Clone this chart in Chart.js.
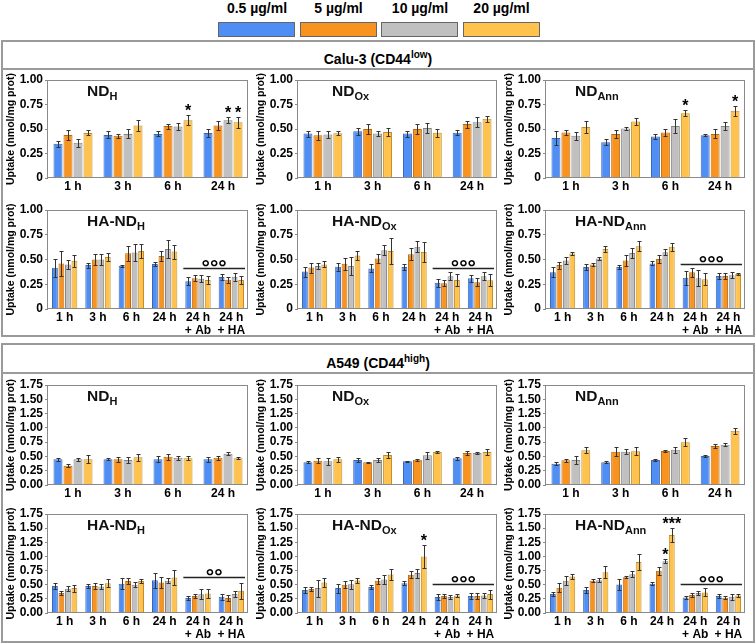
<!DOCTYPE html>
<html>
<head>
<meta charset="utf-8">
<script src="https://cdn.jsdelivr.net/npm/chart.js@4/dist/chart.umd.min.js"></script>
<style>
  body { margin: 0; background: #fff; font-family: "Liberation Sans", Arial, sans-serif; }
  #page { position: relative; width: 756px; height: 644px; overflow: hidden; }
  .box { position: absolute; border: 2px solid #9a9a9a; box-sizing: border-box; }
  .head { position: absolute; left: 0; right: 0; top: 0; text-align: center; font-weight: bold;
          font-size: 14px; color: #000; border-bottom: 2px solid #9a9a9a; }
  .head sup { font-size: 10px; }
  .lg-label { position: absolute; top: 0; width: 80px; text-align: center; font-weight: bold; font-size: 14px; }
  .lg-box { position: absolute; top: 22px; width: 77px; height: 15px; box-sizing: border-box; border: 1px solid #666; }
  .ptitle { position: absolute; font-weight: bold; font-size: 15.5px; line-height: 16px; color: #111; white-space: nowrap; }
  .ptitle sub { font-size: 11px; vertical-align: -4px; }
  canvas { position: absolute; }
</style>
</head>
<body>
<div id="page">
  <div class="box" style="left:1px;top:40px;width:754px;height:297px;">
    <div class="head" style="height:26px;line-height:26px;">Calu-3 (CD44<sup>low</sup>)</div>
  </div>
  <div class="box" style="left:1px;top:343px;width:754px;height:300px;">
    <div class="head" style="height:27px;line-height:27px;">A549 (CD44<sup>high</sup>)</div>
  </div>
</div>
<script>
const concentrations = ["0.5 µg/ml", "5 µg/ml", "10 µg/ml", "20 µg/ml"];
const barColors = ["#4f8ef4", "#f7931e", "#c0c0c0", "#ffc34d"];
const barEdges = ["#3c66b0", "#b86a12", "#858585", "#c08f2c"];

const timesShort = ["1 h", "3 h", "6 h", "24 h"];
const timesLong = ["1 h", "3 h", "6 h", "24 h", ["24 h", "+ Ab"], ["24 h", "+ HA"]];

// rows = time points, columns = 0.5 / 5 / 10 / 20 µg/ml
// Calu-3
const caluNdH = [[0.35, 0.44, 0.36, 0.46], [0.44, 0.43, 0.45, 0.535], [0.45, 0.53, 0.525, 0.59], [0.46, 0.535, 0.59, 0.57]];
const caluNdHErr = [[0.03, 0.05, 0.04, 0.025], [0.035, 0.02, 0.045, 0.06], [0.025, 0.025, 0.035, 0.05], [0.045, 0.05, 0.03, 0.055]];
const caluNdOx = [[0.453, 0.435, 0.445, 0.456], [0.476, 0.5, 0.453, 0.47], [0.453, 0.5, 0.51, 0.463], [0.463, 0.55, 0.57, 0.604]];
const caluNdOxErr = [[0.03, 0.045, 0.035, 0.02], [0.035, 0.05, 0.025, 0.04], [0.03, 0.05, 0.05, 0.04], [0.025, 0.035, 0.05, 0.03]];
const caluNdAnn = [[0.407, 0.464, 0.43, 0.52], [0.366, 0.45, 0.505, 0.576], [0.424, 0.464, 0.53, 0.66], [0.437, 0.45, 0.53, 0.685]];
const caluNdAnnErr = [[0.075, 0.03, 0.04, 0.065], [0.03, 0.04, 0.015, 0.04], [0.025, 0.04, 0.07, 0.03], [0.01, 0.045, 0.04, 0.05]];
const caluHaNdH = [[0.417, 0.46, 0.45, 0.488], [0.444, 0.5, 0.5, 0.525], [0.437, 0.562, 0.57, 0.585], [0.455, 0.535, 0.606, 0.58], [0.28, 0.31, 0.306, 0.293], [0.323, 0.296, 0.327, 0.293]];
const caluHaNdHErr = [[0.09, 0.13, 0.05, 0.06], [0.025, 0.06, 0.06, 0.04], [0.01, 0.075, 0.09, 0.07], [0.02, 0.05, 0.09, 0.07], [0.04, 0.03, 0.035, 0.04], [0.03, 0.03, 0.04, 0.04]];
const caluHaNdOx = [[0.378, 0.418, 0.434, 0.45], [0.428, 0.458, 0.434, 0.54], [0.41, 0.51, 0.593, 0.586], [0.424, 0.552, 0.63, 0.576], [0.266, 0.26, 0.33, 0.293], [0.31, 0.27, 0.33, 0.29]];
const caluHaNdOxErr = [[0.05, 0.05, 0.035, 0.03], [0.04, 0.06, 0.09, 0.05], [0.04, 0.05, 0.05, 0.13], [0.03, 0.06, 0.055, 0.1], [0.04, 0.03, 0.04, 0.06], [0.035, 0.04, 0.04, 0.06]];
const caluHaNdAnn = [[0.37, 0.444, 0.49, 0.56], [0.424, 0.45, 0.51, 0.606], [0.424, 0.49, 0.565, 0.633], [0.46, 0.505, 0.572, 0.63], [0.316, 0.37, 0.31, 0.3], [0.333, 0.333, 0.34, 0.353]];
const caluHaNdAnnErr = [[0.05, 0.035, 0.04, 0.015], [0.035, 0.015, 0.015, 0.03], [0.02, 0.055, 0.05, 0.05], [0.02, 0.045, 0.03, 0.04], [0.07, 0.045, 0.08, 0.06], [0.03, 0.03, 0.03, 0.01]];

// A549
const a549NdH = [[0.449, 0.338, 0.449, 0.449], [0.449, 0.449, 0.437, 0.484], [0.449, 0.496, 0.478, 0.467], [0.449, 0.478, 0.548, 0.467]];
const a549NdHErr = [[0.03, 0.03, 0.03, 0.07], [0.02, 0.045, 0.045, 0.06], [0.05, 0.05, 0.035, 0.035], [0.04, 0.035, 0.025, 0.02]];
const a549NdOx = [[0.397, 0.426, 0.414, 0.45], [0.437, 0.4, 0.437, 0.525], [0.414, 0.443, 0.52, 0.578], [0.467, 0.56, 0.56, 0.578]];
const a549NdOxErr = [[0.015, 0.04, 0.06, 0.04], [0.04, 0.01, 0.03, 0.05], [0.01, 0.02, 0.06, 0.02], [0.025, 0.03, 0.02, 0.05]];
const a549NdAnn = [[0.373, 0.432, 0.437, 0.607], [0.397, 0.583, 0.583, 0.589], [0.437, 0.595, 0.618, 0.747], [0.508, 0.683, 0.706, 0.951]];
const a549NdAnnErr = [[0.03, 0.025, 0.07, 0.05], [0.015, 0.08, 0.04, 0.07], [0.01, 0.02, 0.05, 0.07], [0.01, 0.04, 0.03, 0.05]];
const a549HaNdH = [[0.476, 0.352, 0.43, 0.44], [0.476, 0.476, 0.47, 0.528], [0.517, 0.564, 0.5, 0.564], [0.58, 0.54, 0.57, 0.628], [0.264, 0.3, 0.33, 0.346], [0.288, 0.264, 0.335, 0.393]];
const a549HaNdHErr = [[0.05, 0.04, 0.04, 0.06], [0.04, 0.06, 0.04, 0.07], [0.1, 0.05, 0.04, 0.04], [0.13, 0.09, 0.04, 0.13], [0.03, 0.03, 0.09, 0.08], [0.05, 0.05, 0.05, 0.14]];
const a549HaNdOx = [[0.405, 0.423, 0.44, 0.54], [0.44, 0.5, 0.51, 0.575], [0.458, 0.57, 0.593, 0.68], [0.528, 0.675, 0.705, 1.0], [0.282, 0.3, 0.282, 0.31], [0.3, 0.3, 0.31, 0.335]];
const a549HaNdOxErr = [[0.05, 0.04, 0.15, 0.08], [0.08, 0.06, 0.08, 0.05], [0.03, 0.05, 0.08, 0.1], [0.04, 0.06, 0.08, 0.2], [0.05, 0.04, 0.03, 0.02], [0.05, 0.05, 0.04, 0.08]];
const a549HaNdAnn = [[0.335, 0.446, 0.57, 0.646], [0.405, 0.57, 0.58, 0.722], [0.505, 0.634, 0.687, 0.9], [0.517, 0.745, 0.916, 1.38], [0.276, 0.317, 0.352, 0.364], [0.3, 0.27, 0.288, 0.31]];
const a549HaNdAnnErr = [[0.04, 0.08, 0.08, 0.04], [0.06, 0.03, 0.03, 0.1], [0.1, 0.02, 0.05, 0.14], [0.03, 0.07, 0.04, 0.12], [0.03, 0.04, 0.03, 0.07], [0.04, 0.03, 0.05, 0.03]];

// significance marks: [time index, concentration index, text]
const caluNdHStars = [[2, 3, "*"], [3, 2, "*"], [3, 3, "*"]];
const caluNdAnnStars = [[2, 3, "*"], [3, 3, "*"]];
const a549HaNdOxStars = [[3, 3, "*"]];
const a549HaNdAnnStars = [[3, 2, "*"], [3, 3, "***"]];
// line over the "+ Ab" / "+ HA" groups: [level, text]
const caluHaNdHLine = [0.41, "°°°"];
const caluHaNdOxLine = [0.41, "°°°"];
const caluHaNdAnnLine = [0.45, "°°°"];
const a549HaNdHLine = [0.64, "°°"];
const a549HaNdOxLine = [0.517, "°°°"];
const a549HaNdAnnLine = [0.51, "°°°"];

const FONT = "'Liberation Sans', Arial, sans-serif";
const rowGeom = [
  { plotTop: 80, plotH: 98, xH: 18 },
  { plotTop: 210, plotH: 99, xH: 31 },
  { plotTop: 385, plotH: 100, xH: 18 },
  { plotTop: 514, plotH: 99, xH: 30 }
];
const colGeom = [
  { plotLeft: 48, plotW: 200, titleX: 87 },
  { plotLeft: 298, plotW: 199, titleX: 332 },
  { plotLeft: 546, plotW: 199, titleX: 575 }
];

const panels = [
  { row: 0, col: 0, name: "ND", sub: "H", labels: timesShort, vals: caluNdH, errs: caluNdHErr, max: 1, stars: caluNdHStars },
  { row: 0, col: 1, name: "ND", sub: "Ox", labels: timesShort, vals: caluNdOx, errs: caluNdOxErr, max: 1 },
  { row: 0, col: 2, name: "ND", sub: "Ann", labels: timesShort, vals: caluNdAnn, errs: caluNdAnnErr, max: 1, stars: caluNdAnnStars },
  { row: 1, col: 0, name: "HA-ND", sub: "H", labels: timesLong, vals: caluHaNdH, errs: caluHaNdHErr, max: 1, line: caluHaNdHLine },
  { row: 1, col: 1, name: "HA-ND", sub: "Ox", labels: timesLong, vals: caluHaNdOx, errs: caluHaNdOxErr, max: 1, line: caluHaNdOxLine },
  { row: 1, col: 2, name: "HA-ND", sub: "Ann", labels: timesLong, vals: caluHaNdAnn, errs: caluHaNdAnnErr, max: 1, line: caluHaNdAnnLine },
  { row: 2, col: 0, name: "ND", sub: "H", labels: timesShort, vals: a549NdH, errs: a549NdHErr, max: 1.75 },
  { row: 2, col: 1, name: "ND", sub: "Ox", labels: timesShort, vals: a549NdOx, errs: a549NdOxErr, max: 1.75 },
  { row: 2, col: 2, name: "ND", sub: "Ann", labels: timesShort, vals: a549NdAnn, errs: a549NdAnnErr, max: 1.75 },
  { row: 3, col: 0, name: "HA-ND", sub: "H", labels: timesLong, vals: a549HaNdH, errs: a549HaNdHErr, max: 1.75, line: a549HaNdHLine },
  { row: 3, col: 1, name: "HA-ND", sub: "Ox", labels: timesLong, vals: a549HaNdOx, errs: a549HaNdOxErr, max: 1.75, stars: a549HaNdOxStars, line: a549HaNdOxLine },
  { row: 3, col: 2, name: "HA-ND", sub: "Ann", labels: timesLong, vals: a549HaNdAnn, errs: a549HaNdAnnErr, max: 1.75, stars: a549HaNdAnnStars, line: a549HaNdAnnLine }
];

// frame, error bars, stars and the significance line
const extras = {
  id: "extras",
  afterDatasetsDraw(chart) {
    const { ctx, chartArea: a, scales: { x, y } } = chart;
    const p = chart.options.plugins.extras.panel;
    ctx.save();
    ctx.strokeStyle = "#8a8a8a";
    ctx.lineWidth = 1;
    ctx.strokeRect(a.left - 0.5, a.top + 0.5, a.width, a.height - 1);

    ctx.strokeStyle = "#333";
    chart.data.datasets.forEach((ds, di) => {
      chart.getDatasetMeta(di).data.forEach((bar, i) => {
        const v = ds.data[i], e = ds.errors[i];
        const yt = Math.round(y.getPixelForValue(v + e)) + 0.5;
        const yb = Math.round(y.getPixelForValue(v - e)) + 0.5;
        const bx = Math.round(bar.x) + 0.5;
        ctx.beginPath();
        ctx.moveTo(bx, yt); ctx.lineTo(bx, yb);
        ctx.moveTo(bx - 2, yt); ctx.lineTo(bx + 2, yt);
        ctx.moveTo(bx - 2, yb); ctx.lineTo(bx + 2, yb);
        ctx.stroke();
      });
    });

    ctx.fillStyle = "#000";
    ctx.textAlign = "center";
    ctx.textBaseline = "alphabetic";
    ctx.font = "bold 16px " + FONT;
    (p.stars || []).forEach(([t, c, txt]) => {
      const bar = chart.getDatasetMeta(c).data[t];
      const top = y.getPixelForValue(p.vals[t][c] + p.errs[t][c]);
      ctx.fillText(txt, bar.x, top + 1);
    });

    if (p.line) {
      const [level, txt] = p.line;
      const half = (x.getPixelForValue(1) - x.getPixelForValue(0)) / 2;
      const x0 = x.getPixelForValue(4) - half + 2;
      const x1 = x.getPixelForValue(5) + half - 3;
      const ly = Math.round(y.getPixelForValue(level)) + 0.5;
      ctx.strokeStyle = "#222";
      ctx.lineWidth = 1.5;
      ctx.beginPath();
      ctx.moveTo(x0, ly); ctx.lineTo(x1, ly);
      ctx.stroke();
      ctx.font = "bold 21px " + FONT;
      ctx.fillText(txt, (x0 + x1) / 2, ly + 5);
    }
    ctx.restore();
  }
};

const page = document.getElementById("page");

// shared legend
concentrations.forEach((label, k) => {
  const left = 218 + k * 81.5;
  const lab = document.createElement("div");
  lab.className = "lg-label";
  lab.style.left = (left - 1) + "px";
  lab.textContent = label;
  page.appendChild(lab);
  const sw = document.createElement("div");
  sw.className = "lg-box";
  sw.style.left = left + "px";
  sw.style.background = barColors[k];
  page.appendChild(sw);
});

panels.forEach((p) => {
  const r = rowGeom[p.row], c = colGeom[p.col];
  const canvas = document.createElement("canvas");
  canvas.width = 43 + c.plotW + 4;
  canvas.height = 10 + r.plotH + r.xH;
  canvas.style.left = (c.plotLeft - 43) + "px";
  canvas.style.top = (r.plotTop - 10) + "px";
  page.appendChild(canvas);

  const title = document.createElement("div");
  title.className = "ptitle";
  title.style.left = c.titleX + "px";
  title.style.top = (r.plotTop + 3) + "px";
  title.innerHTML = p.name + "<sub>" + p.sub + "</sub>";
  page.appendChild(title);

  const wide = p.labels.length > 4;
  new Chart(canvas, {
    type: "bar",
    data: {
      labels: p.labels,
      datasets: concentrations.map((label, k) => ({
        label: label,
        data: p.vals.map((row) => row[k]),
        errors: p.errs.map((row) => row[k]),
        backgroundColor: barColors[k],
        borderColor: barEdges[k],
        borderWidth: 1,
        categoryPercentage: wide ? 0.78 : 0.8,
        barPercentage: 0.9
      }))
    },
    options: {
      responsive: false,
      animation: false,
      layout: { padding: { top: 10, right: 4, left: 0, bottom: 0 } },
      plugins: {
        legend: { display: false },
        tooltip: { enabled: false },
        extras: { panel: p }
      },
      scales: {
        x: {
          grid: { display: false, drawTicks: false },
          border: { display: false },
          ticks: {
            color: "#000", padding: 2, maxRotation: 0, autoSkip: false,
            font: { family: FONT, size: 12, weight: "bold", lineHeight: 1.1 }
          },
          afterFit: (s) => { s.height = r.xH; }
        },
        y: {
          min: 0,
          max: p.max,
          grid: { display: true, drawOnChartArea: false, drawTicks: true, tickLength: 3, color: "#8a8a8a" },
          border: { display: false },
          ticks: {
            stepSize: 0.25, color: "#000", padding: 2, autoSkip: false,
            font: { family: FONT, size: 12, weight: "bold", lineHeight: 1 },
            callback: (v) => (v === 0 && p.max === 1 ? "0" : v.toFixed(2))
          },
          title: {
            display: true, text: "Uptake (nmol/mg prot)", color: "#000", padding: 0,
            font: { family: FONT, size: 10.5, weight: "bold" }
          },
          afterFit: (s) => { s.width = 43; }
        }
      }
    },
    plugins: [extras]
  });
});
</script>
</body>
</html>
